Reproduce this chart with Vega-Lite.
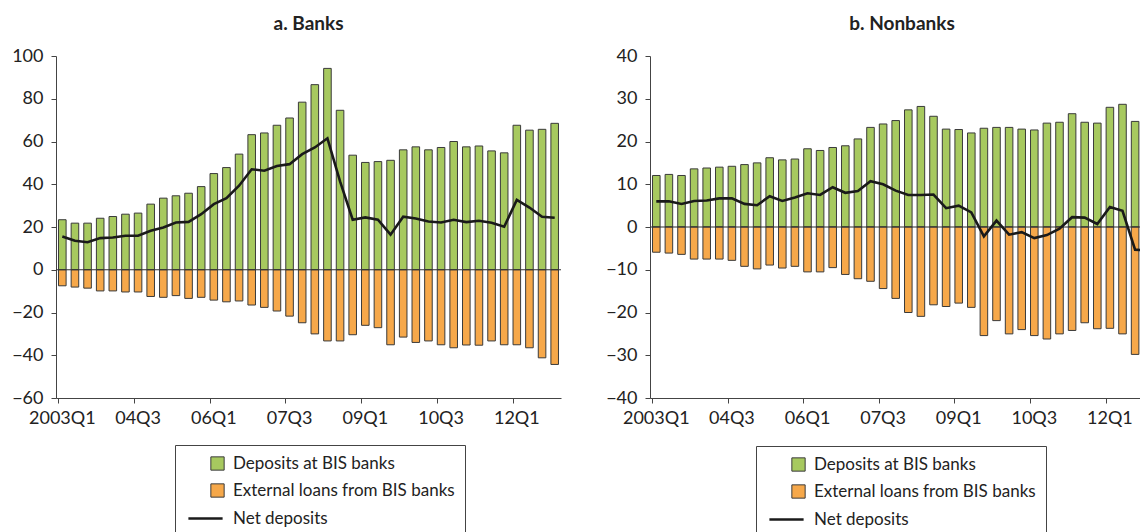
{
  "$schema": "https://vega.github.io/schema/vega-lite/v6.json",
  "padding": {"left": 11, "top": 15, "right": 0, "bottom": 0},
  "spacing": 43,
  "config": {
    "view": {"stroke": null},
    "font": "Lato",
    "axis": {"grid": false, "labelFont": "Lato", "labelFontSize": 18, "labelColor": "#222", "domainColor": "#444", "tickColor": "#444", "tickSize": 5, "title": null},
    "title": {"font": "Lato", "fontSize": 19, "fontWeight": "bold", "color": "#222", "offset": 13, "anchor": "middle"}
  },
  "datasets": {
    "banks": [
      {"q": "2003Q1", "dep": 23.4, "loans": -7.5, "net": 15.6},
      {"q": "2003Q2", "dep": 21.8, "loans": -8.1, "net": 13.6},
      {"q": "2003Q3", "dep": 21.8, "loans": -8.6, "net": 12.9},
      {"q": "2003Q4", "dep": 24.1, "loans": -9.9, "net": 14.8},
      {"q": "2004Q1", "dep": 24.9, "loans": -9.9, "net": 15.1},
      {"q": "2004Q2", "dep": 26.0, "loans": -10.4, "net": 15.9},
      {"q": "2004Q3", "dep": 26.5, "loans": -10.4, "net": 15.9},
      {"q": "2004Q4", "dep": 30.7, "loans": -12.5, "net": 18.2},
      {"q": "2005Q1", "dep": 33.5, "loans": -12.9, "net": 19.8},
      {"q": "2005Q2", "dep": 34.6, "loans": -12.1, "net": 22.1},
      {"q": "2005Q3", "dep": 35.8, "loans": -13.4, "net": 22.4},
      {"q": "2005Q4", "dep": 38.9, "loans": -12.9, "net": 26.0},
      {"q": "2006Q1", "dep": 45.0, "loans": -14.2, "net": 30.7},
      {"q": "2006Q2", "dep": 47.8, "loans": -15.0, "net": 33.5},
      {"q": "2006Q3", "dep": 54.1, "loans": -14.6, "net": 39.3},
      {"q": "2006Q4", "dep": 63.2, "loans": -16.5, "net": 47.0},
      {"q": "2007Q1", "dep": 64.0, "loans": -17.6, "net": 46.3},
      {"q": "2007Q2", "dep": 67.6, "loans": -19.3, "net": 48.5},
      {"q": "2007Q3", "dep": 71.0, "loans": -21.7, "net": 49.4},
      {"q": "2007Q4", "dep": 78.4, "loans": -24.8, "net": 54.1},
      {"q": "2008Q1", "dep": 86.6, "loans": -30.0, "net": 57.2},
      {"q": "2008Q2", "dep": 94.2, "loans": -33.3, "net": 61.5},
      {"q": "2008Q3", "dep": 74.6, "loans": -33.3, "net": 41.3},
      {"q": "2008Q4", "dep": 53.6, "loans": -30.4, "net": 23.4},
      {"q": "2009Q1", "dep": 50.2, "loans": -26.0, "net": 24.5},
      {"q": "2009Q2", "dep": 50.6, "loans": -27.1, "net": 23.4},
      {"q": "2009Q3", "dep": 51.2, "loans": -35.1, "net": 16.4},
      {"q": "2009Q4", "dep": 56.1, "loans": -31.5, "net": 24.8},
      {"q": "2010Q1", "dep": 57.5, "loans": -34.0, "net": 24.0},
      {"q": "2010Q2", "dep": 56.1, "loans": -33.3, "net": 22.6},
      {"q": "2010Q3", "dep": 57.2, "loans": -35.1, "net": 22.1},
      {"q": "2010Q4", "dep": 60.0, "loans": -36.5, "net": 23.4},
      {"q": "2011Q1", "dep": 57.5, "loans": -35.2, "net": 22.3},
      {"q": "2011Q2", "dep": 57.9, "loans": -35.3, "net": 22.9},
      {"q": "2011Q3", "dep": 55.6, "loans": -33.3, "net": 22.0},
      {"q": "2011Q4", "dep": 54.7, "loans": -35.1, "net": 20.1},
      {"q": "2012Q1", "dep": 67.6, "loans": -35.1, "net": 32.7},
      {"q": "2012Q2", "dep": 65.3, "loans": -36.5, "net": 29.1},
      {"q": "2012Q3", "dep": 65.7, "loans": -41.2, "net": 24.8},
      {"q": "2012Q4", "dep": 68.5, "loans": -44.3, "net": 24.3}
    ],
    "nonbanks": [
      {"q": "2003Q1", "dep": 12.05, "loans": -5.9, "net": 6.0},
      {"q": "2003Q2", "dep": 12.3, "loans": -6.1, "net": 6.0},
      {"q": "2003Q3", "dep": 12.05, "loans": -6.4, "net": 5.4},
      {"q": "2003Q4", "dep": 13.6, "loans": -7.5, "net": 6.1},
      {"q": "2004Q1", "dep": 13.8, "loans": -7.5, "net": 6.2},
      {"q": "2004Q2", "dep": 14.0, "loans": -7.5, "net": 6.7},
      {"q": "2004Q3", "dep": 14.2, "loans": -7.8, "net": 6.7},
      {"q": "2004Q4", "dep": 14.6, "loans": -9.2, "net": 5.4},
      {"q": "2005Q1", "dep": 15.0, "loans": -9.8, "net": 5.1},
      {"q": "2005Q2", "dep": 16.2, "loans": -8.9, "net": 7.2},
      {"q": "2005Q3", "dep": 15.7, "loans": -9.6, "net": 6.1},
      {"q": "2005Q4", "dep": 15.9, "loans": -9.2, "net": 6.9},
      {"q": "2006Q1", "dep": 18.3, "loans": -10.5, "net": 7.9},
      {"q": "2006Q2", "dep": 17.9, "loans": -10.5, "net": 7.5},
      {"q": "2006Q3", "dep": 18.6, "loans": -9.5, "net": 9.3},
      {"q": "2006Q4", "dep": 19.0, "loans": -11.1, "net": 8.0},
      {"q": "2007Q1", "dep": 20.6, "loans": -12.1, "net": 8.4},
      {"q": "2007Q2", "dep": 23.3, "loans": -12.7, "net": 10.7},
      {"q": "2007Q3", "dep": 24.1, "loans": -14.4, "net": 10.0},
      {"q": "2007Q4", "dep": 24.9, "loans": -16.7, "net": 8.5},
      {"q": "2008Q1", "dep": 27.4, "loans": -20.0, "net": 7.5},
      {"q": "2008Q2", "dep": 28.2, "loans": -20.9, "net": 7.5},
      {"q": "2008Q3", "dep": 25.9, "loans": -18.2, "net": 7.6},
      {"q": "2008Q4", "dep": 22.9, "loans": -18.6, "net": 4.4},
      {"q": "2009Q1", "dep": 22.8, "loans": -17.8, "net": 5.0},
      {"q": "2009Q2", "dep": 22.0, "loans": -18.8, "net": 3.4},
      {"q": "2009Q3", "dep": 23.1, "loans": -25.4, "net": -2.2},
      {"q": "2009Q4", "dep": 23.3, "loans": -21.9, "net": 1.5},
      {"q": "2010Q1", "dep": 23.3, "loans": -25.0, "net": -1.8},
      {"q": "2010Q2", "dep": 22.9, "loans": -24.0, "net": -1.2},
      {"q": "2010Q3", "dep": 22.7, "loans": -25.4, "net": -2.6},
      {"q": "2010Q4", "dep": 24.3, "loans": -26.2, "net": -1.9},
      {"q": "2011Q1", "dep": 24.5, "loans": -25.0, "net": -0.4},
      {"q": "2011Q2", "dep": 26.5, "loans": -24.2, "net": 2.3},
      {"q": "2011Q3", "dep": 24.5, "loans": -22.4, "net": 2.2},
      {"q": "2011Q4", "dep": 24.3, "loans": -23.8, "net": 0.7},
      {"q": "2012Q1", "dep": 28.0, "loans": -23.7, "net": 4.7},
      {"q": "2012Q2", "dep": 28.7, "loans": -25.0, "net": 3.8},
      {"q": "2012Q3", "dep": 24.7, "loans": -29.8, "net": -5.3},
      {"q": "2012Q4", "dep": 24.5, "loans": -30.0, "net": -5.5}
    ],
    "zero": [{"z": 0}]
  },
  "resolve": {"scale": {"fill": "independent", "stroke": "independent", "y": "independent", "x": "independent"}, "legend": {"fill": "independent", "stroke": "independent"}},
  "hconcat": [
    {
      "width": 505,
      "height": 342,
      "title": {"text": "a. Banks"},
      "data": {"name": "banks"},
      "layer": [
        {
          "mark": {"type": "bar", "stroke": "#3a3a3a", "strokeWidth": 1},
          "encoding": {
            "x": {"field": "q", "type": "ordinal", "sort": null, "scale": {"paddingInner": 0.4, "paddingOuter": 0.2},
              "axis": {"values": ["2003Q1", "2004Q3", "2006Q1", "2007Q3", "2009Q1", "2010Q3", "2012Q1"], "bandPosition": 0, "labelAngle": 0, "labelPadding": 6, "labelExpr": "datum.value == '2003Q1' ? datum.value : slice(datum.value, 2)"}},
            "y": {"field": "dep", "type": "quantitative", "scale": {"domain": [-60, 100], "nice": false}, "axis": {"values": [-60, -40, -20, 0, 20, 40, 60, 80, 100], "labelPadding": 8, "minExtent": 45, "maxExtent": 45}},
            "fill": {"datum": "Deposits at BIS banks", "type": "nominal",
              "scale": {"domain": ["Deposits at BIS banks", "External loans from BIS banks"], "range": ["#a7c95f", "#f6a84a"]},
              "legend": {"orient": "none", "legendX": 119, "legendY": 389, "direction": "vertical", "title": " ", "titleOrient": "bottom", "titleFontSize": 40, "titlePadding": 4, "strokeColor": "#444", "padding": 10, "labelFont": "Lato", "labelFontSize": 17, "labelColor": "#222", "labelLimit": 400, "symbolType": "square", "symbolSize": 177, "symbolOffset": 24, "symbolStrokeWidth": 1, "symbolStrokeColor": "#444", "rowPadding": 8, "labelOffset": 7}
            }
          }
        },
        {
          "mark": {"type": "bar", "stroke": "#3a3a3a", "strokeWidth": 1},
          "encoding": {
            "x": {"field": "q", "type": "ordinal", "sort": null},
            "y": {"field": "loans", "type": "quantitative"},
            "fill": {"datum": "External loans from BIS banks", "type": "nominal"}
          }
        },
        {
          "data": {"name": "zero"},
          "mark": {"type": "rule", "color": "#333", "strokeWidth": 1.2},
          "encoding": {"y": {"field": "z", "type": "quantitative"}}
        },
        {
          "mark": {"type": "line", "strokeWidth": 2.6},
          "encoding": {
            "x": {"field": "q", "type": "ordinal", "sort": null},
            "y": {"field": "net", "type": "quantitative"},
            "stroke": {"datum": "Net deposits", "type": "nominal", "scale": {"domain": ["Net deposits"], "range": ["#1a1a1a"]},
              "legend": {"orient": "none", "legendX": 131, "legendY": 444, "title": null, "padding": 0, "symbolType": "stroke", "symbolSize": 1170, "symbolStrokeWidth": 2.5, "symbolStrokeColor": "#1a1a1a", "labelFont": "Lato", "labelFontSize": 17, "labelColor": "#222", "labelOffset": 9}
            }
          }
        }
      ]
    },
    {
      "width": 504,
      "height": 342,
      "title": {"text": "b. Nonbanks"},
      "data": {"name": "nonbanks"},
      "layer": [
        {
          "mark": {"type": "bar", "stroke": "#3a3a3a", "strokeWidth": 1},
          "encoding": {
            "x": {"field": "q", "type": "ordinal", "sort": null, "scale": {"paddingInner": 0.4, "paddingOuter": 0.2},
              "axis": {"values": ["2003Q1", "2004Q3", "2006Q1", "2007Q3", "2009Q1", "2010Q3", "2012Q1"], "bandPosition": 0, "labelAngle": 0, "labelPadding": 6, "labelExpr": "datum.value == '2003Q1' ? datum.value : slice(datum.value, 2)"}},
            "y": {"field": "dep", "type": "quantitative", "scale": {"domain": [-40, 40], "nice": false}, "axis": {"values": [-40, -30, -20, -10, 0, 10, 20, 30, 40], "labelPadding": 8, "minExtent": 45, "maxExtent": 45}},
            "fill": {"datum": "Deposits at BIS banks", "type": "nominal",
              "scale": {"domain": ["Deposits at BIS banks", "External loans from BIS banks"], "range": ["#a7c95f", "#f6a84a"]},
              "legend": {"orient": "none", "legendX": 106, "legendY": 390, "direction": "vertical", "title": " ", "titleOrient": "bottom", "titleFontSize": 40, "titlePadding": 4, "strokeColor": "#444", "padding": 10, "labelFont": "Lato", "labelFontSize": 17, "labelColor": "#222", "labelLimit": 400, "symbolType": "square", "symbolSize": 177, "symbolOffset": 24, "symbolStrokeWidth": 1, "symbolStrokeColor": "#444", "rowPadding": 8, "labelOffset": 7}
            }
          }
        },
        {
          "mark": {"type": "bar", "stroke": "#3a3a3a", "strokeWidth": 1},
          "encoding": {
            "x": {"field": "q", "type": "ordinal", "sort": null},
            "y": {"field": "loans", "type": "quantitative"},
            "fill": {"datum": "External loans from BIS banks", "type": "nominal"}
          }
        },
        {
          "data": {"name": "zero"},
          "mark": {"type": "rule", "color": "#333", "strokeWidth": 1.2},
          "encoding": {"y": {"field": "z", "type": "quantitative"}}
        },
        {
          "mark": {"type": "line", "strokeWidth": 2.6},
          "encoding": {
            "x": {"field": "q", "type": "ordinal", "sort": null},
            "y": {"field": "net", "type": "quantitative"},
            "stroke": {"datum": "Net deposits", "type": "nominal", "scale": {"domain": ["Net deposits"], "range": ["#1a1a1a"]},
              "legend": {"orient": "none", "legendX": 118, "legendY": 445, "title": null, "padding": 0, "symbolType": "stroke", "symbolSize": 1170, "symbolStrokeWidth": 2.5, "symbolStrokeColor": "#1a1a1a", "labelFont": "Lato", "labelFontSize": 17, "labelColor": "#222", "labelOffset": 9}
            }
          }
        }
      ]
    }
  ]
}
